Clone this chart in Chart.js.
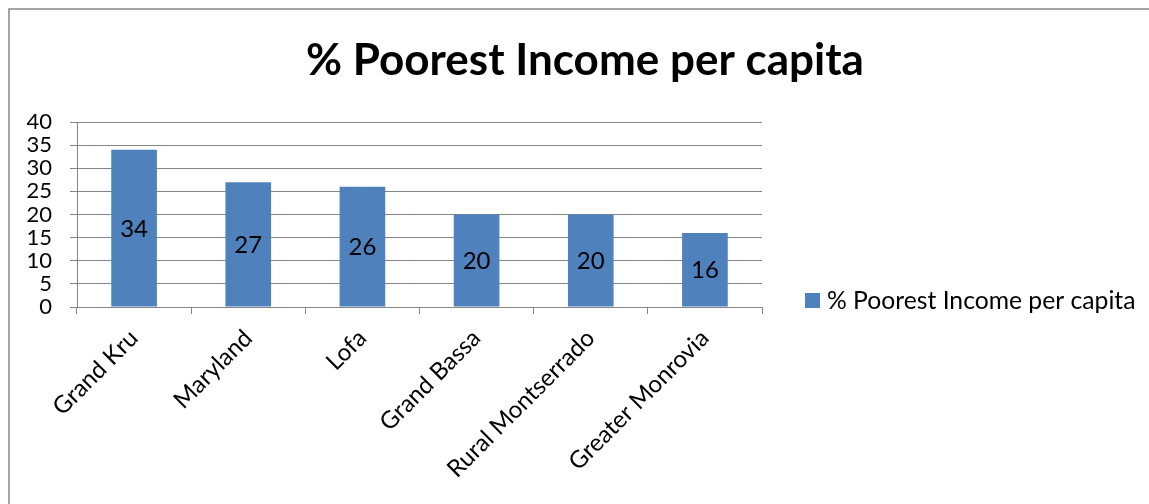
<!DOCTYPE html>
<html>
<head>
<meta charset="utf-8">
<title>% Poorest Income per capita</title>
<script src="https://cdn.jsdelivr.net/npm/chart.js@4/dist/chart.umd.min.js"></script>
<style>
  html, body { margin: 0; padding: 0; background: #fff; }
  #wrap { width: 1149px; height: 504px; position: relative; }
</style>
</head>
<body>
<div id="wrap"><canvas id="povertyChart" width="1149" height="504"></canvas></div>
<script>
// Regions and share of poorest income per capita
const COUNTIES = ["Grand Kru", "Maryland", "Lofa", "Grand Bassa", "Rural Montserrado", "Greater Monrovia"];
const POOREST_PCT = [34, 27, 26, 20, 20, 16];
const Y_TICKS = [0, 5, 10, 15, 20, 25, 30, 35, 40];

const SERIES_NAME = "% Poorest Income per capita";
const BAR_BLUE = "#4F81BD";
const AXIS_GRAY = "#868686";
const FONT = "Lato, 'Open Sans', sans-serif";

// outer frame of the chart object
const framePlugin = {
  id: "frame",
  beforeDraw(chart) {
    const c = chart.ctx;
    c.save();
    c.fillStyle = "#fff";
    c.fillRect(0, 0, chart.width, chart.height);
    c.strokeStyle = AXIS_GRAY;
    c.lineWidth = 1.5;
    c.strokeRect(9, 9, chart.width + 20, chart.height + 20);
    c.restore();
  },
};

// big bold heading, centred on the whole frame
const headingPlugin = {
  id: "heading",
  afterDraw(chart) {
    const c = chart.ctx;
    c.save();
    c.font = `bold 44px ${FONT}`;
    c.fillStyle = "#000";
    c.textAlign = "center";
    c.textBaseline = "alphabetic";
    c.fillText(SERIES_NAME, 585, 75);
    c.restore();
  },
};

// value written in the middle of every bar
const barLabelPlugin = {
  id: "barLabels",
  afterDatasetsDraw(chart) {
    const c = chart.ctx;
    const meta = chart.getDatasetMeta(0);
    const vals = chart.data.datasets[0].data;
    c.save();
    c.font = `24px ${FONT}`;
    c.fillStyle = "#000";
    c.textAlign = "center";
    c.textBaseline = "middle";
    meta.data.forEach((bar, i) => {
      c.fillText(String(vals[i]), bar.x, (bar.y + bar.base) / 2 + 1);
    });
    c.restore();
  },
};

// legend box on the right
const sideLegendPlugin = {
  id: "sideLegend",
  afterDraw(chart) {
    const c = chart.ctx;
    const ds = chart.data.datasets[0];
    c.save();
    c.fillStyle = ds.backgroundColor;
    c.fillRect(805, 293, 15, 15);
    c.font = `24.7px ${FONT}`;
    c.fillStyle = "#000";
    c.textBaseline = "middle";
    c.fillText(ds.label, 827, 301);
    c.restore();
  },
};

new Chart(document.getElementById("povertyChart"), {
  type: "bar",
  data: {
    labels: COUNTIES,
    datasets: [
      {
        label: SERIES_NAME,
        data: POOREST_PCT,
        backgroundColor: BAR_BLUE,
        borderWidth: 0,
        barPercentage: 0.4,
        categoryPercentage: 1,
      },
    ],
  },
  options: {
    responsive: false,
    animation: false,
    events: [],
    layout: { padding: { left: 0, right: 387, top: 122, bottom: 0 } },
    plugins: {
      legend: { display: false },
      tooltip: { enabled: false },
      title: { display: false },
    },
    scales: {
      x: {
        offset: true,
        afterFit(scale) { scale.height = 197; },
        grid: {
          offset: true,
          drawOnChartArea: false,
          drawTicks: true,
          tickLength: 7,
          color: AXIS_GRAY,
        },
        border: { color: AXIS_GRAY, width: 1 },
        ticks: {
          color: "#000",
          font: { family: FONT, size: 24 },
          maxRotation: 45,
          minRotation: 45,
          padding: 10,
          autoSkip: false,
        },
      },
      y: {
        min: 0,
        max: 40,
        afterFit(scale) { scale.width = 77; },
        afterBuildTicks(scale) { scale.ticks = Y_TICKS.map((v) => ({ value: v })); },
        grid: {
          color: AXIS_GRAY,
          tickLength: 7,
          drawTicks: true,
        },
        border: { color: AXIS_GRAY, width: 1 },
        ticks: {
          color: "#000",
          font: { family: FONT, size: 22 },
          padding: 18,
          autoSkip: false,
        },
      },
    },
  },
  plugins: [framePlugin, barLabelPlugin, sideLegendPlugin, headingPlugin],
});
</script>
</body>
</html>
